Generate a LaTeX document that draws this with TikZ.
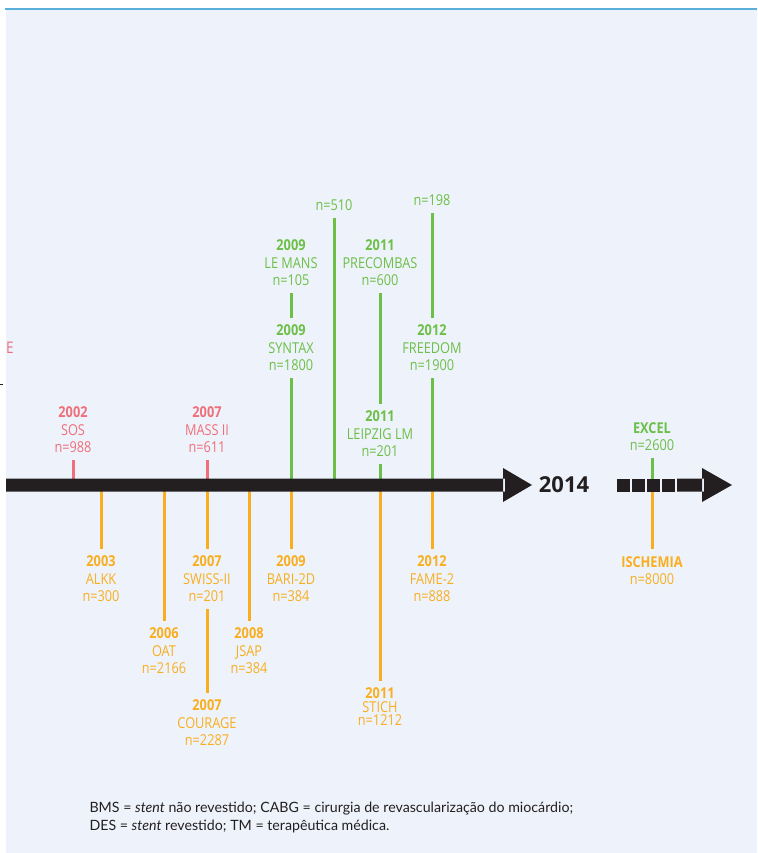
\documentclass[tikz,border=0pt]{standalone}
\usepackage{fontspec}
\setmainfont{Open Sans}[FakeStretch=0.85]
\newfontfamily\yearfont{Open Sans}
\newfontfamily\notefont{Lato}
\definecolor{redc}{HTML}{EF6F7A}
\definecolor{grnc}{HTML}{6CBF47}
\definecolor{orgc}{HTML}{F9AE1F}
\definecolor{axc}{HTML}{231F20}
\definecolor{bgc}{HTML}{EEF3FB}
\definecolor{rulec}{HTML}{5BAFDC}

\begin{document}
\begin{tikzpicture}[x=1pt,y=-1pt,
  lbl/.style={align=center,inner xsep=0pt,inner ysep=7pt,outer sep=0pt,font=\fontsize{15}{17.5}\selectfont},
  redlbl/.style={lbl,text=redc},
  grnlbl/.style={lbl,text=grnc},
  orglbl/.style={lbl,text=orgc},
  redstem/.style={draw=redc,line width=3pt},
  grnstem/.style={draw=grnc,line width=3pt},
  orgstem/.style={draw=orgc,line width=3pt}]
\useasboundingbox (0,0) rectangle (757,853);
\fill[bgc] (6,10) rectangle (757,853);
\draw[rulec,line width=2pt] (5,9) -- (757,9);
\coordinate (ax) at (0,485);
% left over from the previous panel
\node[redlbl,inner ysep=0pt,font=\fontsize{16}{16}\selectfont] (e) at (10,348) {E};
\draw[axc,line width=1pt] (0,384) -- (3,384);
% above the axis
\node[redlbl] (sos) at (73,430) {\textbf{2002}\\SOS\\n=988};
\node[redlbl] (mass) at (207,430) {\textbf{2007}\\MASS II\\n=611};
\node[grnlbl] (lemans) at (291,263) {\textbf{2009}\\LE MANS\\n=105};
\node[grnlbl] (syntax) at (291,348) {\textbf{2009}\\SYNTAX\\n=1800};
\node[grnlbl] (n510) at (334,205) {n=510};
\node[grnlbl] (precombas) at (380,263) {\textbf{2011}\\PRECOMBAS\\n=600};
\node[grnlbl] (leipzig) at (380,434) {\textbf{2011}\\LEIPZIG LM\\n=201};
\node[grnlbl] (n198) at (432,200) {n=198};
\node[grnlbl] (freedom) at (432,348) {\textbf{2012}\\FREEDOM\\n=1900};
\node[grnlbl] (excel) at (652,436.5) {\textbf{EXCEL}\\n=2600};
% below the axis
\node[orglbl] (alkk) at (101,579) {\textbf{2003}\\ALKK\\n=300};
\node[orglbl] (oat) at (164,651) {\textbf{2006}\\OAT\\n=2166};
\node[orglbl] (swiss) at (207,579) {\textbf{2007}\\SWISS-II\\n=201};
\node[orglbl] (courage) at (207,723) {\textbf{2007}\\COURAGE\\n=2287};
\node[orglbl] (jsap) at (249,651) {\textbf{2008}\\JSAP\\n=384};
\node[orglbl] (bari) at (291,579) {\textbf{2009}\\BARI-2D\\n=384};
\node[orglbl,font=\fontsize{15}{13.5}\selectfont] (stich) at (380,707) {\textbf{2011}\\STICH\\n=1212};
\node[orglbl] (fame) at (432,579) {\textbf{2012}\\FAME-2\\n=888};
\node[orglbl] (ischemia) at (652,570.5) {\textbf{ISCHEMIA}\\n=8000};
% stems
\draw[redstem] (sos) -- (sos |- ax);
\draw[redstem] (mass) -- (mass |- ax);
\draw[grnstem] (lemans) -- (syntax);
\draw[grnstem] (syntax) -- (syntax |- ax);
\draw[grnstem] (n510) -- (n510 |- ax);
\draw[grnstem] (precombas) -- (leipzig);
\draw[grnstem] (leipzig) -- (leipzig |- ax);
\draw[grnstem] (n198) -- (freedom);
\draw[grnstem] (freedom) -- (freedom |- ax);
\draw[grnstem] (excel) -- (excel |- ax);
\draw[orgstem] (alkk) -- (alkk |- ax);
\draw[orgstem] (oat) -- (oat |- ax);
\draw[orgstem] (swiss) -- (swiss |- ax);
\draw[orgstem] (swiss) -- (courage);
\draw[orgstem] (jsap) -- (jsap |- ax);
\draw[orgstem] (bari) -- (bari |- ax);
\draw[orgstem] (stich) -- (stich |- ax);
\draw[orgstem] (fame) -- (fame |- ax);
\draw[orgstem] (ischemia) -- (ischemia |- ax);
% axis
\fill[axc] (6,478.5) rectangle (505,491.5) (503,468) -- (532,485) -- (503,502) -- cycle;
\node[text=axc,font=\yearfont\fontsize{22}{22}\selectfont\bfseries] (year) at (564,485) {2014};
\foreach \x in {617,632,647,662}
  \fill[axc] (\x,478.5) rectangle ++(13,13);
\fill[axc] (677,478.5) rectangle (704,491.5) (702,468) -- (732,485) -- (702,502) -- cycle;
% legend
\node[anchor=west,align=left,text=axc,font=\notefont\fontsize{14.2}{18}\selectfont] (note) at (86,817)
  {BMS = \textit{stent} não revestido; CABG = cirurgia de revascularização do miocárdio;\\
   DES = \textit{stent} revestido; TM = terapêutica médica.};
\end{tikzpicture}
\end{document}
